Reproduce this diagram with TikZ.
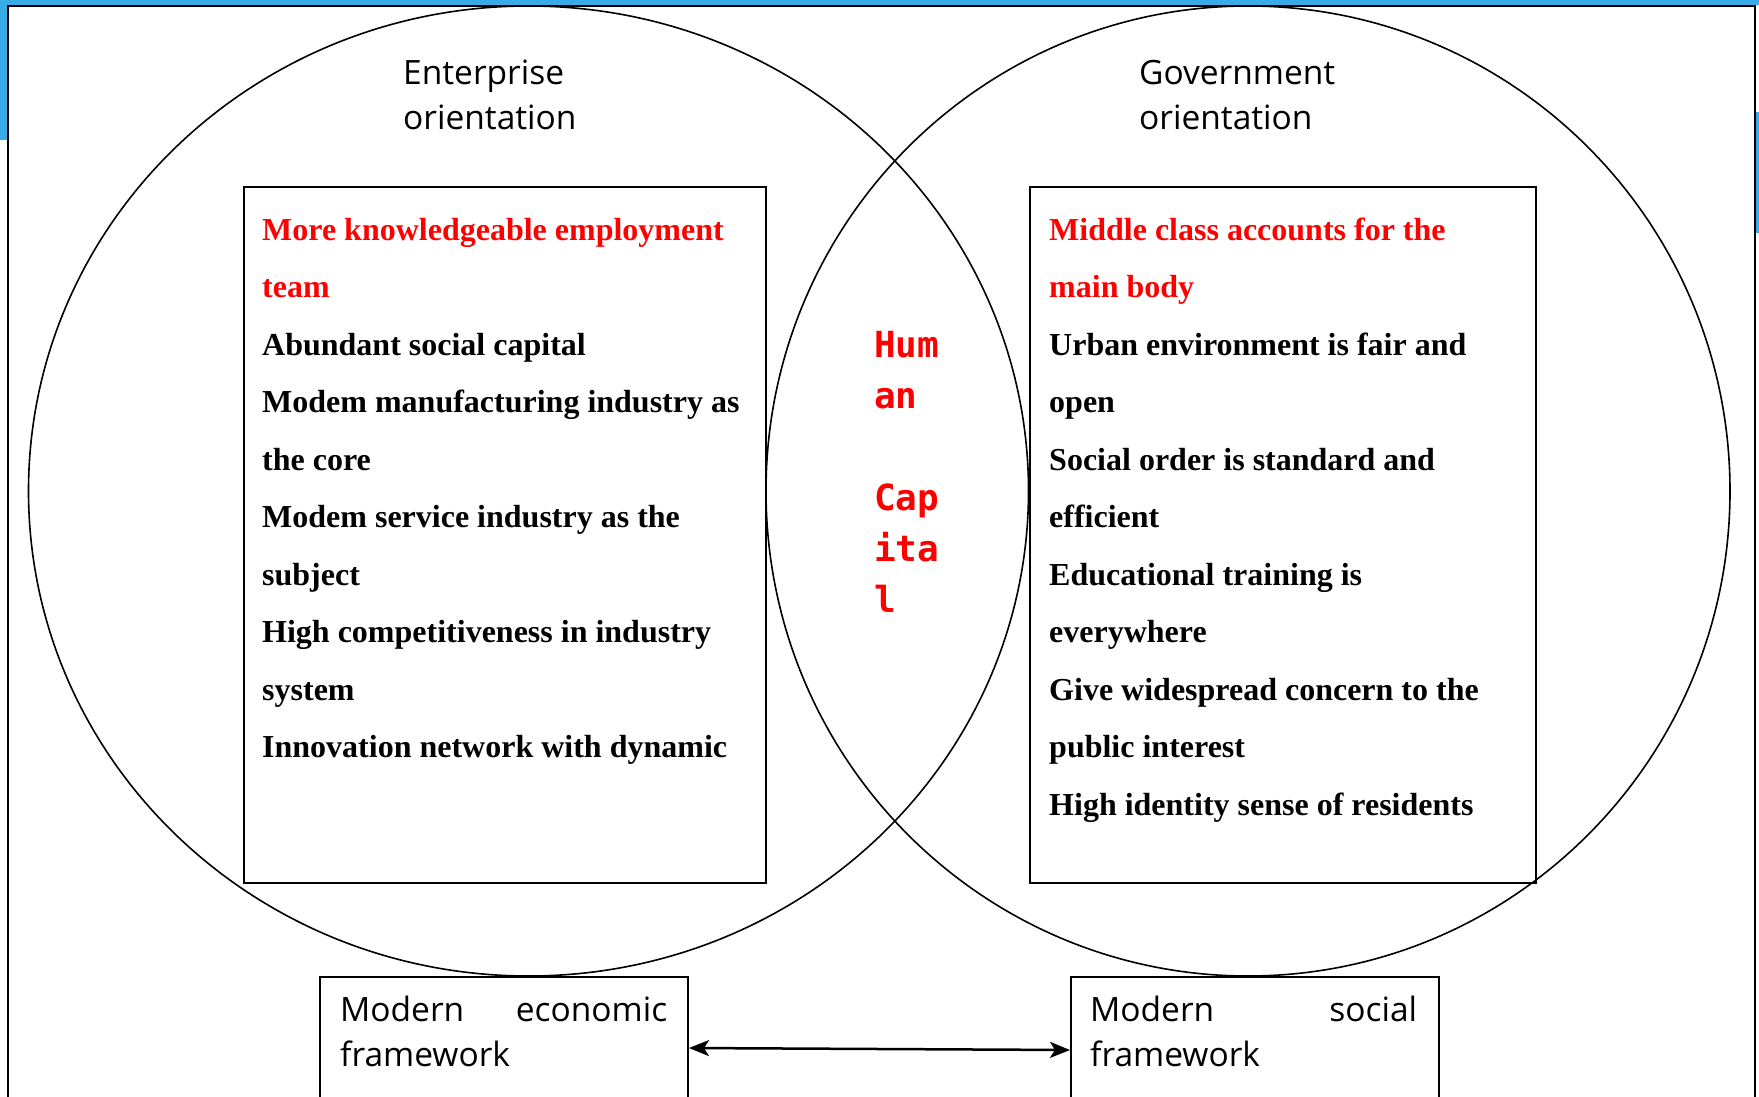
\documentclass[tikz,border=0pt]{standalone}
\usepackage{fontspec}
\setmainfont{Liberation Serif}
\newfontfamily\orientfont{Open Sans}
\newfontfamily\capitalfont{DejaVu Sans Mono}
\usetikzlibrary{shapes.geometric,arrows.meta}
\definecolor{slideblue}{RGB}{56,172,233}
\definecolor{hired}{RGB}{255,0,0}

\tikzset{
    venn/.style={draw, ellipse, line width=1.6pt, inner sep=0pt},
    listbox/.style={draw, rectangle, line width=2pt, anchor=north west, minimum height=696pt, inner sep=0pt},
    listline/.style={anchor=base west, inner sep=0pt, font=\bfseries\fontsize{32}{38}\selectfont},
    orient/.style={anchor=base west, inner sep=0pt, text width=260pt, align=left, font=\orientfont\fontsize{33.5}{45}\selectfont},
    fwbox/.style={draw, rectangle, line width=2pt, anchor=north west, minimum width=368pt, inner sep=0pt},
    fwtext/.style={anchor=base west, inner sep=0pt, text width=327pt, align=left, font=\orientfont\fontsize{33.5}{45}\selectfont},
}

\begin{document}
\begin{tikzpicture}[x=1pt, y=-1pt]
    \useasboundingbox (0,0) rectangle (1759,1097);
    \clip (0,0) rectangle (1759,1097);

    \fill[slideblue] (0,0) rectangle (1759,5);
    \fill[slideblue] (0,0) rectangle (7,140);
    \fill[slideblue] (1756,112) rectangle (1759,233);
    \draw[line width=2.5pt] (8,1110) -- (8,6) -- (1755,6) -- (1755,1110);

    \node[venn, minimum width=1000pt, minimum height=970pt] (entcircle) at (528.5,491) {};
    \node[venn, minimum width=964pt, minimum height=970pt] (govcircle) at (1248,491) {};

    \node[orient] (entlabel) at (403,85) {Enterprise\\orientation};
    \node[orient] (govlabel) at (1139,85) {Government\\orientation};

    \begin{scope}
        \node[listbox, minimum width=522pt] (entbox) at (243,186) {};
        \foreach \c/\t [count=\i] in {hired/More knowledgeable employment, hired/team,
            black/Abundant social capital, black/Modem manufacturing industry as, black/the core,
            black/Modem service industry as the, black/subject, black/High competitiveness in industry,
            black/system, black/Innovation network with dynamic} {
            \node[listline, text=\c] (ent_\i) at (262, {240+57.5*(\i-1)}) {\t};
        }
    \end{scope}

    \begin{scope}
        \node[listbox, minimum width=506pt] (govbox) at (1029,186) {};
        \foreach \c/\t [count=\i] in {hired/Middle class accounts for the, hired/main body,
            black/Urban environment is fair and, black/open, black/Social order is standard and,
            black/efficient, black/Educational training is, black/everywhere,
            black/Give widespread concern to the, black/public interest, black/High identity sense of residents} {
            \node[listline, text=\c] (gov_\i) at (1049, {240+57.5*(\i-1)}) {\t};
        }
    \end{scope}

    \node[anchor=base west, inner sep=0pt, text width=100pt, align=left, text=hired,
        font=\capitalfont\bfseries\fontsize{36}{51}\selectfont] (capital) at (874,357) {Hum\\an\\\mbox{}\\Cap\\ita\\l};

    \node[fwbox, minimum height=142pt] (econbox) at (319,976) {};
    \node[fwbox, minimum height=146pt] (socbox) at (1070,976) {};
    \node[fwtext] (econtext) at (340,1021) {Modern\hspace{\fill}economic\\framework};
    \node[fwtext] (soctext) at (1090,1021) {Modern\hspace{\fill}social\\framework};

    \draw[{Stealth[length=20pt,width=16pt,inset=5pt]}-{Stealth[length=20pt,width=16pt,inset=5pt]}, line width=2.5pt] (econbox.east) -- (socbox.west);
\end{tikzpicture}
\end{document}
